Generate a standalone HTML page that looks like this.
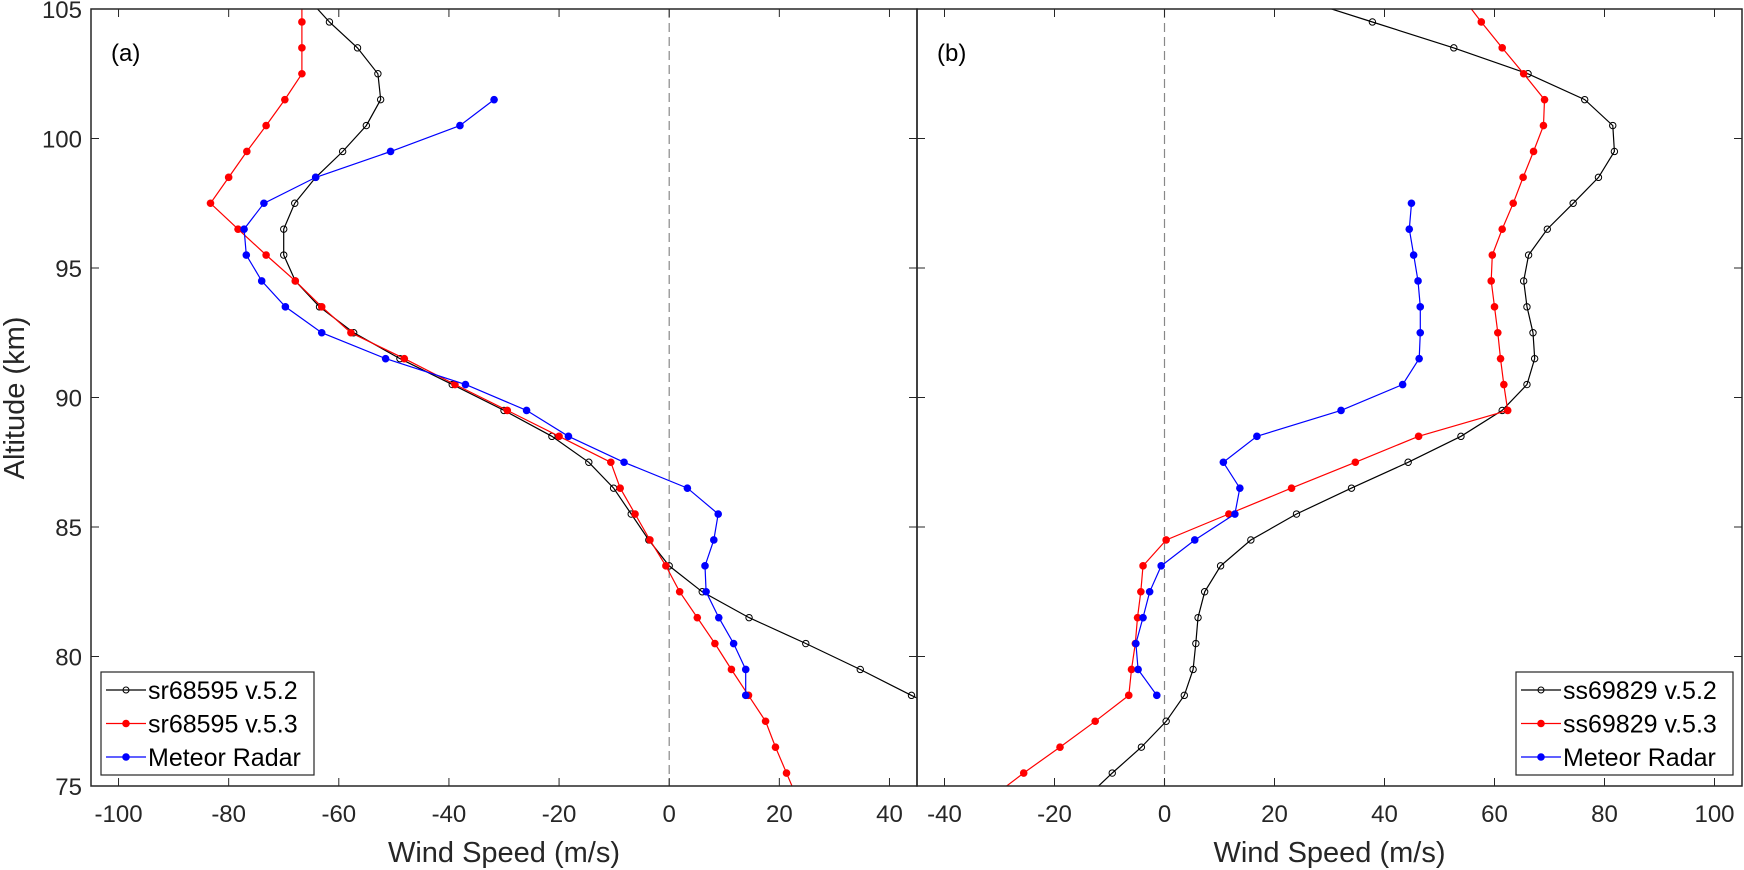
<!DOCTYPE html>
<html><head><meta charset="utf-8"><style>
html,body{margin:0;padding:0;background:#fff;}
svg{display:block;font-family:"Liberation Sans",Arial,sans-serif;}
</style></head><body>
<svg id="fig" width="1744" height="870" viewBox="0 0 1744 870" xmlns="http://www.w3.org/2000/svg"></svg>
<script>
// ---- data ----
const altA_black=[105.5,104.5,103.5,102.5,101.5,100.5,99.5,98.5,97.5,96.5,95.5,94.5,93.5,92.5,91.5,90.5,89.5,88.5,87.5,86.5,85.5,84.5,83.5,82.5,81.5,80.5,79.5,78.5,77.5];
const windA_black=[-66,-61.7,-56.6,-52.9,-52.4,-55,-59.3,-64.2,-68,-70,-70,-67.9,-63.5,-57.3,-48.9,-39.4,-30,-21.3,-14.6,-10.1,-6.9,-3.7,0,6,14.5,24.8,34.7,44,54];
const altA_red=[105.5,104.5,103.5,102.5,101.5,100.5,99.5,98.5,97.5,96.5,95.5,94.5,93.5,92.5,91.5,90.5,89.5,88.5,87.5,86.5,85.5,84.5,83.5,82.5,81.5,80.5,79.5,78.5,77.5,76.5,75.5,74.5];
const windA_red=[-66.7,-66.7,-66.7,-66.7,-69.8,-73.2,-76.7,-80,-83.3,-78.3,-73.2,-67.9,-63.1,-57.8,-48.1,-38.9,-29.4,-20,-10.6,-8.9,-6.2,-3.5,-0.6,1.9,5.1,8.3,11.3,14.4,17.5,19.3,21.3,23.3];
const altA_blue=[101.5,100.5,99.5,98.5,97.5,96.5,95.5,94.5,93.5,92.5,91.5,90.5,89.5,88.5,87.5,86.5,85.5,84.5,83.5,82.5,81.5,80.5,79.5,78.5];
const windA_blue=[-31.8,-38,-50.6,-64.2,-73.6,-77.2,-76.8,-74,-69.7,-63.1,-51.5,-37,-25.9,-18.3,-8.2,3.3,8.9,8.1,6.5,6.7,9,11.7,13.9,13.9];
const altB_black=[105.5,104.5,103.5,102.5,101.5,100.5,99.5,98.5,97.5,96.5,95.5,94.5,93.5,92.5,91.5,90.5,89.5,88.5,87.5,86.5,85.5,84.5,83.5,82.5,81.5,80.5,79.5,78.5,77.5,76.5,75.5,74.5];
const windB_black=[23,37.8,52.6,66.1,76.4,81.5,81.8,78.9,74.3,69.6,66.2,65.3,65.9,67,67.3,65.9,61.4,53.9,44.3,34,24,15.7,10.2,7.3,6.1,5.7,5.2,3.6,0.3,-4.2,-9.5,-14.5];
const altB_red=[105.5,104.5,103.5,102.5,101.5,100.5,99.5,98.5,97.5,96.5,95.5,94.5,93.5,92.5,91.5,90.5,89.5,88.5,87.5,86.5,85.5,84.5,83.5,82.5,81.5,80.5,79.5,78.5,77.5,76.5,75.5,74.5];
const windB_red=[54,57.6,61.4,65.3,69.1,68.9,67.1,65.2,63.4,61.4,59.6,59.4,60,60.6,61.1,61.7,62.4,46.2,34.7,23.1,11.7,0.3,-3.9,-4.3,-4.9,-5.3,-6,-6.5,-12.6,-19,-25.6,-31.8];
const altB_blue=[97.5,96.5,95.5,94.5,93.5,92.5,91.5,90.5,89.5,88.5,87.5,86.5,85.5,84.5,83.5,82.5,81.5,80.5,79.5,78.5];
const windB_blue=[44.9,44.5,45.3,46.1,46.5,46.5,46.3,43.3,32.1,16.8,10.7,13.7,12.8,5.5,-0.6,-2.7,-3.9,-5.2,-4.8,-1.4];
const xTicksA=[-100,-80,-60,-40,-20,0,20,40];
const xTicksB=[-40,-20,0,20,40,60,80,100];
const yTicks=[75,80,85,90,95,100,105];
const legendA=["sr68595 v.5.2","sr68595 v.5.3","Meteor Radar"];
const legendB=["ss69829 v.5.2","ss69829 v.5.3","Meteor Radar"];

const NS="http://www.w3.org/2000/svg";
const svg=document.getElementById('fig');
const TOP=9,BOT=786;
function yS(a){return BOT-(a-75)/30*(BOT-TOP);}
function mk(tag,attrs,parent){const e=document.createElementNS(NS,tag);for(const k in attrs)e.setAttribute(k,attrs[k]);(parent||svg).appendChild(e);return e;}
const TXT="#262626";

function panel(id,L,R,xmin,xmax,xt,series,leg,letter,legBox){
  const g=mk('g',{});
  
  
  const xS=v=>L+(v-xmin)/(xmax-xmin)*(R-L);
  const cid='clip-'+id;
  const cp=mk('clipPath',{id:cid},g);mk('rect',{x:L,y:TOP,width:R-L,height:BOT-TOP},cp);
  // zero line
  const z=mk('line',{x1:xS(0),x2:xS(0),y1:TOP,y2:BOT,stroke:'#888',"stroke-width":1.2,"stroke-dasharray":"9,5"},g);
  
  
  // series
  series.forEach(s=>{
    const sg=mk('g',{"clip-path":'url(#'+cid+')'},g);
    
    
    const pts=s.alt.map((a,i)=>xS(s.w[i]).toFixed(1)+','+yS(a).toFixed(1)).join(' ');
    mk('polyline',{points:pts,fill:'none',stroke:s.c,"stroke-width":1.2},sg);
    s.alt.forEach((a,i)=>{
      const c=s.open?mk('circle',{cx:xS(s.w[i]),cy:yS(a),r:3.2,fill:'none',stroke:s.c,"stroke-width":1},sg)
                    :mk('circle',{cx:xS(s.w[i]),cy:yS(a),r:3.8,fill:s.c},sg);
      
      
    });
  });
  // frame
  const fr=mk('rect',{x:L,y:TOP,width:R-L,height:BOT-TOP,fill:'none',stroke:'#262626',"stroke-width":1.5},g);
  
  
  // x ticks
  xt.forEach(v=>{
    const x=xS(v);
    mk('line',{x1:x,x2:x,y1:BOT,y2:BOT-8,stroke:'#262626'},g);
    mk('line',{x1:x,x2:x,y1:TOP,y2:TOP+8,stroke:'#262626'},g);
    const t=mk('text',{x:x,y:822,"text-anchor":'middle',"font-size":24,fill:TXT},g);
    t.textContent=v;
    
    
  });
  yTicks.forEach(v=>{
    const y=yS(v);
    mk('line',{x1:L,x2:L+8,y1:y,y2:y,stroke:'#262626'},g);
    mk('line',{x1:R,x2:R-8,y1:y,y2:y,stroke:'#262626'},g);
  });
  const xl=mk('text',{x:(L+R)/2,y:862,"text-anchor":'middle',"font-size":29,fill:TXT},g);
  xl.textContent='Wind Speed (m/s)';
  
  
  const pl=mk('text',{x:L+20,y:61,"font-size":24,fill:'#000'},g);
  pl.textContent=letter;
  
  
  // legend
  const lg=mk('g',{},g);
  
  
  mk('rect',{x:legBox[0],y:672,width:legBox[1],height:103,fill:'#fff',stroke:'#262626',"stroke-width":1.2},lg);
  leg.forEach((lab,i)=>{
    const s=series[i];const y=690+i*33.5;const x0=legBox[0]+5;
    const e=mk('g',{},lg);
    
    
    mk('line',{x1:x0,x2:x0+40,y1:y,y2:y,stroke:s.c,"stroke-width":1.2},e);
    if(s.open)mk('circle',{cx:x0+20,cy:y,r:3,fill:'none',stroke:s.c},e);
    else mk('circle',{cx:x0+20,cy:y,r:3.8,fill:s.c},e);
    const t=mk('text',{x:x0+42,y:y+9,"font-size":25,fill:'#000'},e);
    t.textContent=lab;
  });
}
panel('a',91,917,-105,45,xTicksA,[
  {name:'series-a-v52',alt:altA_black,w:windA_black,c:'#000',open:true},
  {name:'series-a-v53',alt:altA_red,w:windA_red,c:'#ff0000'},
  {name:'series-a-meteor-radar',alt:altA_blue,w:windA_blue,c:'#0000ff'}],legendA,'(a)',[101,213]);
panel('b',917,1742,-45,105,xTicksB,[
  {name:'series-b-v52',alt:altB_black,w:windB_black,c:'#000',open:true},
  {name:'series-b-v53',alt:altB_red,w:windB_red,c:'#ff0000'},
  {name:'series-b-meteor-radar',alt:altB_blue,w:windB_blue,c:'#0000ff'}],legendB,'(b)',[1516,217]);
// y tick labels
yTicks.forEach(v=>{
  const t=mk('text',{x:82,y:yS(v)+9,"text-anchor":'end',"font-size":24,fill:TXT});
  t.textContent=v;
  
  
});
const yl=mk('text',{x:0,y:0,"text-anchor":'middle',"font-size":29,fill:TXT,transform:'translate(24,398) rotate(-90)'});
yl.textContent='Altitude (km)';


</script>
</body></html>
